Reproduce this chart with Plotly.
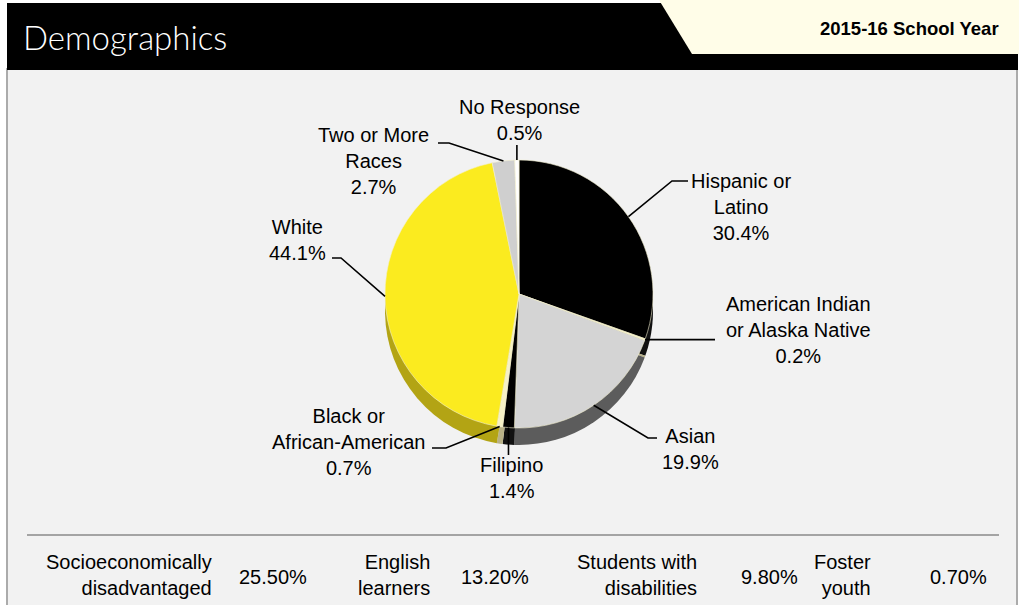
import math
import plotly.graph_objects as go

W, H = 1019, 605

# ---------------- data ----------------
categories = ["Hispanic or Latino", "American Indian or Alaska Native", "Asian", "Filipino",
              "Black or African-American", "White", "Two or More Races", "No Response"]
values = [30.4, 0.2, 19.9, 1.4, 0.7, 44.1, 2.7, 0.5]
label_lines = ["Hispanic or<br>Latino", "American Indian<br>or Alaska Native", "Asian", "Filipino",
               "Black or<br>African-American", "White", "Two or More<br>Races", "No Response"]
top_colors = ["#000000", "#f6f1c6", "#d4d4d4", "#000000", "#f6f1c6", "#fbeb1f", "#cfcfcf", "#ffffff"]
side_colors = ["#111111", "#b8b187", "#5c5c5c", "#111111", "#b8b187", "#b3a414", "#8c8c8c", "#c9c9c9"]

stat_labels = ["Socioeconomically<br>disadvantaged", "English<br>learners",
               "Students with<br>disabilities", "Foster<br>youth"]
stat_values = [25.50, 13.20, 9.80, 0.70]

header_title = "Demographics"
header_year = "2015-16 School Year"

# ---------------- layout helpers ----------------
def px(x):
    return x / W

def py(y):
    return 1 - y / H

CX, CY, R, DEPTH = 519, 294, 134, 17
FONT = "Arial, 'Liberation Sans', sans-serif"
FS = 20

def dom(cx, cy, r):
    return dict(x=[px(cx - r), px(cx + r)], y=[py(cy + r), py(cy - r)])

fig = go.Figure()

# side (depth) of the pie
fig.add_trace(go.Pie(labels=categories, values=values, sort=False, direction="clockwise",
                     rotation=0, marker=dict(colors=side_colors, line=dict(width=0)),
                     textinfo="none", hoverinfo="skip", showlegend=False,
                     domain=dom(CX, CY + DEPTH, R)))
# top face
fig.add_trace(go.Pie(labels=categories, values=values, sort=False, direction="clockwise",
                     rotation=0, marker=dict(colors=top_colors, line=dict(width=0.6, color="#f4f0d0")),
                     textinfo="none", hoverinfo="label+percent", showlegend=False,
                     domain=dom(CX, CY, R)))

shapes = []
# panel background
shapes.append(dict(type="rect", xref="paper", yref="paper", x0=px(7), x1=px(1017), y0=py(606), y1=py(69),
                   fillcolor="#f2f2f2", line=dict(color="#ababab", width=2), layer="below"))
# header bar
shapes.append(dict(type="rect", xref="paper", yref="paper", x0=px(7), x1=px(1018), y0=py(70), y1=py(3),
                   fillcolor="#000000", line=dict(width=0), layer="below"))
# light tab on right
tab = (f"M {px(659)},{py(0)} L {px(1019)},{py(0)} L {px(1019)},{py(54)} "
       f"L {px(692)},{py(54)} Z")
shapes.append(dict(type="path", xref="paper", yref="paper", path=tab,
                   fillcolor="#fffde8", line=dict(width=0), layer="below"))
# separator line
shapes.append(dict(type="line", xref="paper", yref="paper", x0=px(27), x1=px(999), y0=py(535), y1=py(535),
                   line=dict(color="#8a8a8a", width=1.5), layer="below"))

# ---------------- slice labels with leader lines ----------------
label_pos = [(741, 207), (798, 330), (690, 449), (511, 478), (348, 442), (297, 240), (373, 161), (519, 120)]
elbows = [
    [(688, 181), (672, 181)],
    [(715, None)],
    [(657, 438), (648, 438)],
    [(None, 455)],
    [(432, 448), (446, 448)],
    [(332, 258), (341, 258)],
    [(438, 143), (449, 143)],
    [(None, 145)],
]

total = sum(values)
cum = 0.0
annotations = []
for i, v in enumerate(values):
    mid = (cum + v / 2) / total * 360.0
    cum += v
    th = math.radians(mid)
    ex = CX + R * math.sin(th)
    ey = CY - R * math.cos(th)
    pts = [((a if a is not None else ex), (b if b is not None else ey)) for a, b in elbows[i]] + [(ex, ey)]
    path = "M " + " L ".join(f"{px(a)},{py(b)}" for a, b in pts)
    shapes.append(dict(type="path", xref="paper", yref="paper", path=path,
                       line=dict(color="#000000", width=1.6)))
    lx, ly = label_pos[i]
    annotations.append(dict(x=px(lx), y=py(ly), xref="paper", yref="paper", showarrow=False,
                            text=f"{label_lines[i]}<br>{v:.1f}%", align="center",
                            xanchor="center", yanchor="middle",
                            font=dict(family=FONT, size=FS, color="#000000")))

# ---------------- header texts ----------------
annotations.append(dict(x=px(21), y=py(37), xref="paper", yref="paper", showarrow=False,
                        text=header_title, xanchor="left", yanchor="middle",
                        font=dict(family="Lato, 'Open Sans', sans-serif", size=33, color="#ffffff", weight=300)))
annotations.append(dict(x=px(1001), y=py(28), xref="paper", yref="paper", showarrow=False,
                        text=f"<b>{header_year}</b>", xanchor="right", yanchor="middle",
                        font=dict(family=FONT, size=18.5, color="#000000")))

# ---------------- bottom statistics ----------------
stat_label_right = [214, 432, 699, 873]
stat_value_center = [273, 495, 769, 958]
for lab, val, xr, xv in zip(stat_labels, stat_values, stat_label_right, stat_value_center):
    annotations.append(dict(x=px(xr), y=py(575), xref="paper", yref="paper", showarrow=False,
                            text=lab, align="right", xanchor="right", yanchor="middle",
                            font=dict(family=FONT, size=FS, color="#000000")))
    annotations.append(dict(x=px(xv), y=py(577), xref="paper", yref="paper", showarrow=False,
                            text=f"{val:.2f}%", xanchor="center", yanchor="middle",
                            font=dict(family=FONT, size=FS, color="#000000")))

fig.update_layout(width=W, height=H, autosize=False, margin=dict(l=0, r=0, t=0, b=0),
                  paper_bgcolor="#ffffff", plot_bgcolor="#ffffff", showlegend=False,
                  shapes=shapes, annotations=annotations)

fig.write_html("out.html")
